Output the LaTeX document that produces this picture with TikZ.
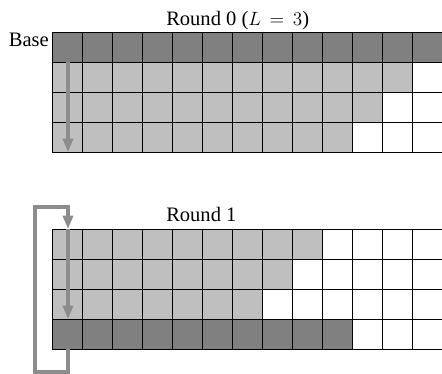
\documentclass[tikz,border=0pt]{standalone}
\usepackage{fontspec}
\setmainfont{Liberation Serif}
\usetikzlibrary{arrows.meta}

\begin{document}
\begin{tikzpicture}[x=22.5pt, y=-22.5pt,
    basecell/.style={fill=black!50, draw=black, line width=0.7pt},
    workcell/.style={fill=black!25, draw=black, line width=0.7pt},
    freecell/.style={draw=black, line width=0.4pt},
    flow/.style={draw=black!45, line width=2.4pt},
    flowarrow/.style={flow, -{Triangle[length=10pt,width=7.5pt]}},
    lbl/.style={inner sep=0pt, font=\fontsize{15.4}{18}\selectfont}
   ]
  \useasboundingbox (-1.7333,-1.0667) rectangle (13,11.4);

  % round 0: base row, then three rows of work
  \foreach \c in {0,...,12} \draw[basecell] (\c,0) rectangle ++(1,1);
  \foreach \r/\n in {1/12,2/11,3/10} {
    \foreach \c in {0,...,12} {
      \ifnum\c<\n \draw[workcell] (\c,\r) rectangle ++(1,1);
      \else \draw[freecell] (\c,\r) rectangle ++(1,1); \fi
    }
  }

  % round 1: work rows, then the new base row
  \begin{scope}[yshift=-147.75pt]
    \foreach \r/\n in {0/9,1/8,2/7} {
      \foreach \c in {0,...,12} {
        \ifnum\c<\n \draw[workcell] (\c,\r) rectangle ++(1,1);
        \else \draw[freecell] (\c,\r) rectangle ++(1,1); \fi
      }
    }
    \foreach \c in {0,...,12} {
      \ifnum\c<10 \draw[basecell] (\c,3) rectangle ++(1,1);
      \else \draw[freecell] (\c,3) rectangle ++(1,1); \fi
    }
  \end{scope}

  \node[lbl, anchor=base west] (round0) at (3.8,-0.233) {Round 0 ($L\,=\,3$)};
  \node[lbl, anchor=base east] (base)   at (-0.1,0.5)   {Base};
  \node[lbl, anchor=base west] (round1) at (3.8,6.333)  {Round 1};

  \coordinate (start0) at (0.533,1);
  \coordinate (end0)   at (0.533,4);
  \coordinate (out1)   at (0.533,10.567);
  \coordinate (loopA)  at (0.533,11.333);
  \coordinate (loopB)  at (-0.567,11.333);
  \coordinate (loopC)  at (-0.567,5.833);
  \coordinate (loopD)  at (0.533,5.833);
  \coordinate (in1)    at (0.533,6.567);
  \coordinate (end1)   at (0.533,9.567);

  \draw[flowarrow] (start0) -- (end0);
  \draw[flowarrow] (out1) -- (loopA) -- (loopB) -- (loopC) -- (loopD) -- (in1);
  \draw[flowarrow] (in1) -- (end1);
\end{tikzpicture}
\end{document}
